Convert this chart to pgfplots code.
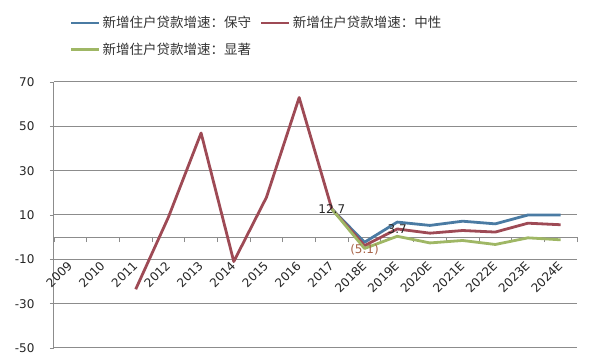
\documentclass[border=0pt]{standalone}
\usepackage{pgfplots}
\pgfplotsset{compat=1.18}
\usepackage{fontspec}
\setmainfont{DejaVu Sans}
\newfontfamily\cjk{Noto Sans CJK SC}
\definecolor{cBlue}{HTML}{4A7BA3}
\definecolor{cRed}{HTML}{9E4A55}
\definecolor{cGreen}{HTML}{9FB765}
\definecolor{cGrid}{HTML}{8C8C8C}
\definecolor{cLab}{HTML}{A8654A}
\begin{document}
\begin{tikzpicture}
\path[use as bounding box] (0pt,0pt) rectangle (595pt,363pt);
\begin{axis}[
  scale only axis,
  width=523pt, height=266pt,
  at={(54pt,15pt)}, anchor=south west,
  xmin=-0.5, xmax=15.5, ymin=-50, ymax=70,
  axis x line=middle, axis y line=left,
  x axis line style={-, cGrid, line width=1pt},
  y axis line style={-, cGrid, line width=1pt},
  ytick={-50,-30,...,70},
  xtick={0,...,15},
  xticklabels={2009,2010,2011,2012,2013,2014,2015,2016,2017,2018E,2019E,2020E,2021E,2022E,2023E,2024E},
  minor xtick={-0.5,0.5,...,15.5},
  every major x tick/.append style={draw=none},
  every minor x tick/.append style={cGrid, line width=0.8pt},
  tick align=outside,
  major tick length=4pt, minor tick length=5pt,
  ytick style={cGrid, line width=0.8pt},
  ymajorgrids, grid style={cGrid, line width=1pt},
  /pgf/number format/assume math mode=true,
  tick label style={font=\fontsize{12}{14}\selectfont, text=black!85},
  x tick label style={xshift=2pt, yshift=-20pt, rotate=45, anchor=east},
  yticklabel shift=12pt,
  clip=false,
  legend columns=2,
  legend cell align=left,
  legend style={draw=none, fill=none, at={(0.024,1.262)}, anchor=north west,
    font=\cjk\fontsize{13.5}{16}\selectfont, text=black!80,
    /tikz/every even column/.append style={column sep=7pt},
    row sep=10pt},
  legend image code/.code={\draw[#1] (0pt,0pt) -- (28pt,0pt);},
]
\addplot[cBlue, line width=2.8pt, line join=round] coordinates {
 (8,12.7) (9,-2.3) (10,6.8) (11,5.3) (12,7.2) (13,6.0) (14,10.0) (15,10.0)};
\addlegendentry{新增住户贷款增速：保守}
\addplot[cRed, line width=2.8pt, line join=round] coordinates {
 (2,-23.5) (3,9) (4,47) (5,-11) (6,18) (7,63) (8,12.7) (9,-3.8) (10,3.7) (11,1.8) (12,3.0) (13,2.3) (14,6.3) (15,5.6)};
\addlegendentry{新增住户贷款增速：中性}
\addplot[cGreen, line width=2.8pt, line join=round] coordinates {
 (8,12.7) (9,-5.1) (10,0.4) (11,-2.6) (12,-1.5) (13,-3.3) (14,-0.3) (15,-1.2)};
\addlegendentry{新增住户贷款增速：显著}
\addplot[draw=none, forget plot, nodes near coords, point meta=explicit symbolic,
  every node near coord/.append style={anchor=center, font=\fontsize{12}{14}\selectfont, text=black!85}]
  coordinates {(8,12.7)[12.7] (10,3.7)[3.7]};
\addplot[draw=none, forget plot, nodes near coords, point meta=explicit symbolic,
  every node near coord/.append style={anchor=center, font=\fontsize{12}{14}\selectfont, text=cLab}]
  coordinates {(9,-5.8)[(5.1)]};
\end{axis}
\end{tikzpicture}
\end{document}
